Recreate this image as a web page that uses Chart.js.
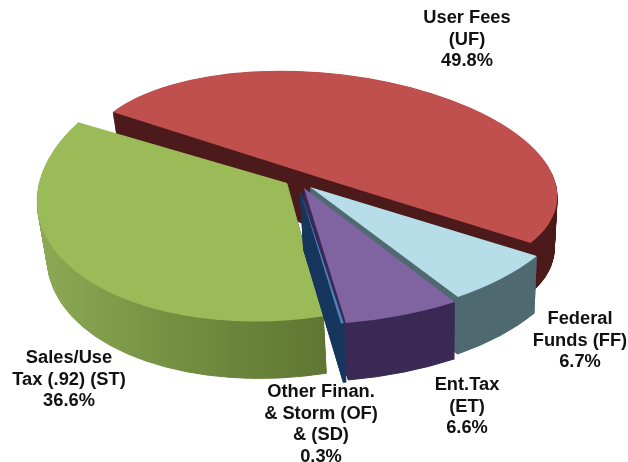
<!DOCTYPE html>
<html lang="en">
<head>
  <meta charset="UTF-8" />
  <title>Revenue Sources</title>
  <script src="https://cdn.jsdelivr.net/npm/chart.js@4.4.0/dist/chart.umd.min.js"></script>
  <style>
    html, body { margin: 0; padding: 0; background: #fff; }
    canvas { display: block; }
  </style>
</head>
<body>
  <canvas id="revenueChart" width="628" height="462"></canvas>

  <script>
    const categories = ['User Fees (UF)', 'Federal Funds (FF)', 'Ent.Tax (ET)', 'Other Finan. & Storm (OF) & (SD)', 'Sales/Use Tax (.92) (ST)'];
    const shares = [49.8, 6.7, 6.6, 0.3, 36.6];
    const labelLines = [
      ['User Fees', '(UF)', '49.8%'],
      ['Federal', 'Funds (FF)', '6.7%'],
      ['Ent.Tax', '(ET)', '6.6%'],
      ['Other Finan.', '& Storm (OF)', '& (SD)', '0.3%'],
      ['Sales/Use', 'Tax (.92) (ST)', '36.6%']
    ];
    const topColors = ['#C0504D', '#B7DEE8', '#8064A2', '#4F81BD', '#9BBB59'];
    const wallColors = ['#4D1B1B', '#4F6A71', '#3B2A55', '#17375E', null];

    // where each label sits, first line centre
    const labelSpots = [[467, 18], [580, 319], [467, 385], [321, 392], [69, 358]];

    // the original is a 3D pie with perspective, so each slice gets its own
    // apex and axis vectors (what the unit circle's x and y axes become on screen)
    const R = 100;
    const sliceViews = [
      { apex: [321, 178], ax: [235, 7],    by: [25, 107],   depth: 52 },
      { apex: [310, 187], ax: [269, -6],   by: [5, 134],    depth: 57 },
      { apex: [304, 188], ax: [282, -3.5], by: [0, 137],    depth: 57 },
      { apex: [300, 190], ax: [150, -3],   by: [21.6, 135], depth: 59 },
      { apex: [287, 183], ax: [250, -20],  by: [4, 137],    depth: 57 }
    ];
    const drawOrder = [0, 1, 4, 2, 3];
    const vanishX = 440;
    const taper = 0.025;

    function applyView(ctx, arc, view) {
      const a = view.ax[0] / R, b = view.ax[1] / R;
      const c = view.by[0] / R, d = view.by[1] / R;
      ctx.transform(a, b, c, d,
        view.apex[0] - a * arc.x - c * arc.y,
        view.apex[1] - b * arc.x - d * arc.y);
    }

    function wallFill(ctx, i) {
      if (wallColors[i]) return wallColors[i];
      const g = ctx.createLinearGradient(40, 0, 325, 0);
      g.addColorStop(0, '#8DA955');
      g.addColorStop(0.5, '#728F41');
      g.addColorStop(1, '#5F7633');
      return g;
    }

    const pie3d = {
      id: 'pie3d',
      beforeDatasetsDraw(chart) {
        const ctx = chart.ctx;
        const arcs = chart.getDatasetMeta(0).data;
        drawOrder.forEach(i => {
          const arc = arcs[i];
          const view = sliceViews[i];
          for (let t = view.depth; t > 0; t--) {
            const s = 1 - taper * t / view.depth;
            ctx.save();
            ctx.translate(vanishX, t);
            ctx.scale(s, 1);
            ctx.translate(-vanishX, 0);
            applyView(ctx, arc, view);
            ctx.beginPath();
            ctx.moveTo(arc.x, arc.y);
            ctx.arc(arc.x, arc.y, arc.outerRadius, arc.startAngle, arc.endAngle);
            ctx.closePath();
            ctx.restore();
            const fill = wallFill(ctx, i);
            ctx.fillStyle = fill;
            ctx.strokeStyle = fill;
            ctx.lineWidth = 1;
            ctx.fill();
            ctx.stroke();
          }
          ctx.save();
          applyView(ctx, arc, view);
          arc.draw(ctx);
          ctx.restore();
        });
        return false;
      },
      afterDraw(chart) {
        const ctx = chart.ctx;
        ctx.save();
        ctx.font = 'bold 18.3px "Liberation Sans", Arial, sans-serif';
        ctx.fillStyle = '#111';
        ctx.textAlign = 'center';
        ctx.textBaseline = 'middle';
        labelLines.forEach((lines, i) => {
          lines.forEach((line, n) => {
            ctx.fillText(line, labelSpots[i][0], labelSpots[i][1] + n * 21.7);
          });
        });
        ctx.restore();
      }
    };

    new Chart(document.getElementById('revenueChart'), {
      type: 'pie',
      data: {
        labels: categories,
        datasets: [{
          data: shares,
          backgroundColor: topColors,
          borderWidth: 0
        }]
      },
      options: {
        responsive: false,
        animation: false,
        radius: R,
        rotation: -55.7,
        events: [],
        plugins: {
          legend: { display: false },
          tooltip: { enabled: false }
        }
      },
      plugins: [pie3d]
    });
  </script>
</body>
</html>
